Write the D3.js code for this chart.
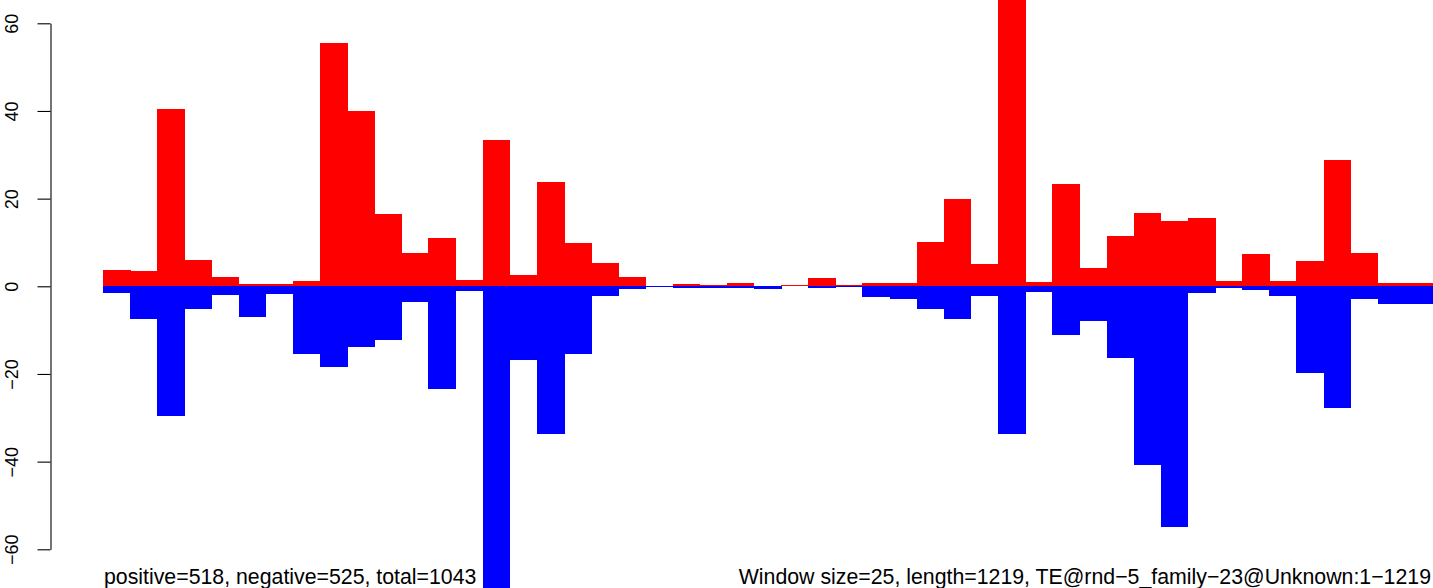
<!DOCTYPE html>
<html>
<head>
<meta charset="utf-8">
<script src="https://cdn.jsdelivr.net/npm/d3@7"></script>
<style>
  html, body { margin: 0; padding: 0; background: #ffffff; }
  svg { display: block; }
  text { font-family: "Liberation Sans", Arial, Helvetica, sans-serif; fill: #000; }
</style>
</head>
<body>
<svg id="chart" width="1433" height="588"></svg>
<script>
// Window start positions (window size 25, length 1219)
const categories = [1,26,51,76,101,126,151,176,201,226,251,276,301,326,351,376,401,426,451,476,
  501,526,551,576,601,626,651,676,701,726,751,776,801,826,851,876,901,926,951,976,
  1001,1026,1051,1076,1101,1126,1151,1176,1201];

// Positive strand (red) values per window
const positiveValues = [3.7,3.5,40.4,6.0,2.1,0.5,0.5,1.2,55.5,40.0,16.5,7.6,11.0,1.4,33.4,2.6,23.8,9.9,5.3,2.1,
  0,0.5,0.3,0.75,0,0.2,1.9,0.3,0.75,0.75,10.1,19.9,5.1,70,1.0,23.3,4.2,11.5,16.7,14.9,
  15.6,1.2,7.4,1.2,5.8,28.8,7.6,0.75,0.75];

// Negative strand (blue) values per window
const negativeValues = [-1.5,-7.5,-29.7,-5.2,-2.0,-7.0,-1.75,-15.4,-18.4,-13.8,-12.2,-3.6,-23.4,-1.0,-72,-16.8,-33.7,-15.4,-2.2,-0.6,
  -0.2,-0.3,-0.3,-0.4,-0.6,0,-0.3,-0.2,-2.4,-2.9,-5.2,-7.5,-2.2,-33.7,-1.3,-11.1,-7.9,-16.3,-40.8,-54.9,
  -1.5,-0.3,-0.8,-2.2,-19.8,-27.8,-2.9,-4.0,-4.0];

const yTicks = [-60,-40,-20,0,20,40,60];
const leftLabel = "positive=518, negative=525, total=1043";
const rightLabel = "Window size=25, length=1219, TE@rnd\u22125_family\u221223@Unknown:1\u22121219";

const svg = d3.select("#chart");

const x = d3.scaleBand().domain(categories).range([103, 1432]).padding(0);
const y = d3.scaleLinear().domain([-60, 60]).range([549.3, 23.3]);

const bars = svg.append("g").attr("shape-rendering", "crispEdges");

bars.selectAll("rect.pos").data(categories.map((c, i) => ({c, v: positiveValues[i]})))
  .join("rect").attr("class", "pos")
  .attr("x", d => x(d.c))
  .attr("width", x.bandwidth() + 0.5)
  .attr("y", d => y(Math.max(0, d.v)))
  .attr("height", d => Math.abs(y(d.v) - y(0)))
  .attr("fill", "#ff0000");

bars.selectAll("rect.neg").data(categories.map((c, i) => ({c, v: negativeValues[i]})))
  .join("rect").attr("class", "neg")
  .attr("x", d => x(d.c))
  .attr("width", x.bandwidth() + 0.5)
  .attr("y", d => y(0))
  .attr("height", d => Math.abs(y(d.v) - y(0)))
  .attr("fill", "#0000ff");

const axis = d3.axisLeft(y).tickValues(yTicks).tickSize(13).tickSizeOuter(0)
  .tickFormat(d3.format("d"));

const ag = svg.append("g").attr("transform", "translate(50.5,0)").call(axis);
ag.select(".domain").attr("stroke", "#000").attr("stroke-width", 1.1);
ag.selectAll(".tick line").attr("stroke", "#000").attr("stroke-width", 1.1);
ag.selectAll(".tick text")
  .attr("x", null).attr("dy", null)
  .attr("text-anchor", "middle")
  .attr("transform", "translate(-33,0) rotate(-90)")
  .style("font-size", "18px")
  .style("font-family", "'Liberation Sans', Arial, Helvetica, sans-serif")
  .attr("fill", "#000");

svg.append("text").attr("x", 104).attr("y", 584)
  .style("font-size", "21.3px").attr("fill", "#1a1a1a").text(leftLabel);
svg.append("text").attr("x", 1431).attr("y", 584).attr("text-anchor", "end")
  .style("font-size", "21.3px").attr("fill", "#1a1a1a").text(rightLabel);
</script>
</body>
</html>
